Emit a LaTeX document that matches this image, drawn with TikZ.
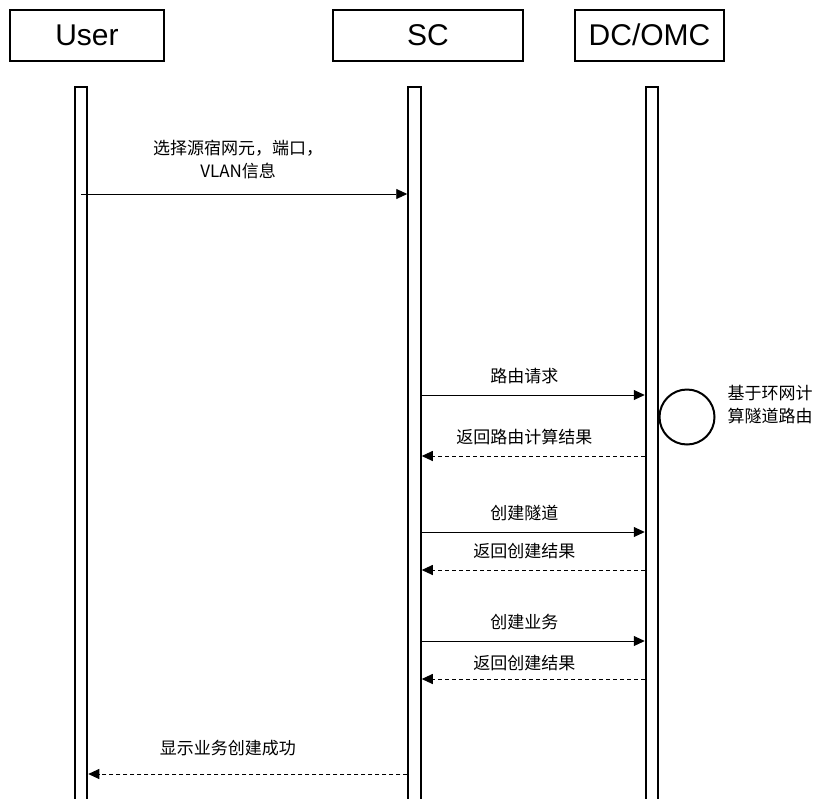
\documentclass[tikz,border=0pt]{standalone}
\usepackage{fontspec}
\setmainfont{Liberation Sans}
\newfontfamily\cjk{Noto Sans CJK SC}
\usetikzlibrary{arrows.meta,positioning}

\begin{document}
\begin{tikzpicture}[
  x=1pt, y=-1pt,
  actor/.style={draw, line width=2pt, minimum height=51pt, inner sep=0pt,
                font=\fontsize{30}{32}\selectfont},
  lifeline/.style={draw, line width=2pt, minimum width=12.5pt, minimum height=730pt,
                   inner sep=0pt, anchor=north},
  msg/.style={line width=0.9pt, -{Triangle[length=11pt,width=10pt]}},
  reply/.style={msg, dash pattern=on 4pt off 3pt},
  lbl/.style={font=\fontsize{17}{23}\selectfont\cjk, align=center, inner sep=2pt}
]
  \useasboundingbox (0,0) rectangle (819,798);

  % participants
  \node[actor, minimum width=154pt] (user) at (87,35)    {User};
  \node[actor, minimum width=190pt] (sc)   at (428,35)   {SC};
  \node[actor, minimum width=149pt] (dc)   at (649.5,35) {DC/OMC};

  % lifelines
  \node[lifeline] (userbar) at (81,86)    {};
  \node[lifeline] (scbar)   at (414.5,86) {};
  \node[lifeline] (dcbar)   at (652,86)   {};

  % messages
  \draw[msg] (userbar.center |- 0,194) -- (scbar.west |- 0,194)
    node[lbl, midway, above=13pt, xshift=-6pt] {选择源宿网元，端口，\\VLAN信息};
  \draw[msg] (scbar.east |- 0,395) -- (dcbar.west |- 0,395)
    node[lbl, midway, above=9pt, xshift=-9pt] {路由请求};
  \draw[reply] (dcbar.west |- 0,456) -- (scbar.east |- 0,456)
    node[lbl, midway, above=9pt, xshift=-9pt] {返回路由计算结果};
  \draw[msg] (scbar.east |- 0,532) -- (dcbar.west |- 0,532)
    node[lbl, midway, above=9pt, xshift=-9pt] {创建隧道};
  \draw[reply] (dcbar.west |- 0,570) -- (scbar.east |- 0,570)
    node[lbl, midway, above=9pt, xshift=-9pt] {返回创建结果};
  \draw[msg] (scbar.east |- 0,641) -- (dcbar.west |- 0,641)
    node[lbl, midway, above=9pt, xshift=-9pt] {创建业务};
  \draw[reply] (dcbar.west |- 0,679) -- (scbar.east |- 0,679)
    node[lbl, midway, above=6pt, xshift=-9pt] {返回创建结果};
  \draw[reply] (scbar.west |- 0,774) -- (userbar.east |- 0,774)
    node[lbl, midway, above=16pt, xshift=-20pt] {显示业务创建成功};

  % self action on DC/OMC
  \node[draw, circle, line width=2pt, minimum size=55pt, inner sep=0pt] (route) at (687,417) {};
  \node[lbl, align=left, anchor=west, xshift=10pt, yshift=12pt] (routetxt) at (route.east) {基于环网计\\算隧道路由};
\end{tikzpicture}
\end{document}
